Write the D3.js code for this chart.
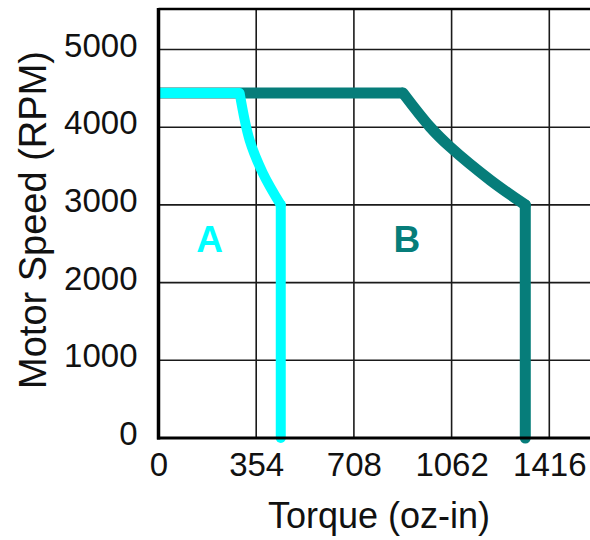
<!DOCTYPE html>
<html>
<head>
<meta charset="utf-8">
<script src="https://cdn.jsdelivr.net/npm/d3@7"></script>
<style>
  body { margin: 0; background: #fff; }
  svg { display: block; font-family: "Liberation Sans", Arial, sans-serif; }
</style>
</head>
<body>
<div id="chart"></div>
<script>
// ---- data ----
const xTicks = [0, 354, 708, 1062, 1416];
const yTicks = [0, 1000, 2000, 3000, 4000, 5000];

// curve A: torque (oz-in), speed (RPM)
const torqueA = [0, 294, 330, 378, 443, 443];
const speedA  = [4440, 4440, 3835, 3410, 3000, 0];

// curve B
const torqueB = [0, 886, 984, 1057, 1202, 1329, 1329];
const speedB  = [4440, 4440, 4003, 3745, 3320, 3000, 0];

const regionLabels = ["A", "B"];
const labelTorque = [185, 900];
const labelSpeed = [2400, 2400];
const colors = ["#00ffff", "#067d7a"];

const xMax = 1770;   // plot runs off the right edge
const yMax = 5520;

// ---- layout ----
const width = 590, height = 540;
const left = 158.5, bottom = 438;

const svg = d3.select("#chart").append("svg")
    .attr("width", width)
    .attr("height", height);

const x = d3.scaleLinear().domain([0, 354]).range([left, left + 97.7]);
const y = d3.scaleLinear().domain([0, 5000]).range([bottom, 49.5]);

// grid
svg.append("g")
    .selectAll("line")
    .data(xTicks.slice(1).concat([xMax]))
    .enter().append("line")
    .attr("x1", d => x(d)).attr("x2", d => x(d))
    .attr("y1", y(0)).attr("y2", y(yMax))
    .attr("stroke", "#1a1a1a").attr("stroke-width", 1.6);

svg.append("g")
    .selectAll("line")
    .data(yTicks.slice(1))
    .enter().append("line")
    .attr("x1", x(0)).attr("x2", x(xMax))
    .attr("y1", d => y(d)).attr("y2", d => y(d))
    .attr("stroke", "#1a1a1a").attr("stroke-width", 1.6);

// top border
svg.append("line")
    .attr("x1", x(0)).attr("x2", x(xMax))
    .attr("y1", y(yMax)).attr("y2", y(yMax))
    .attr("stroke", "#000").attr("stroke-width", 2.5);

// curves: flat top, smooth falling part, vertical drop
const straight = d3.line().x(d => x(d[0])).y(d => y(d[1]));
const smooth = d3.line().x(d => x(d[0])).y(d => y(d[1])).curve(d3.curveCatmullRom);

function drawCurve(torque, speed, color, w) {
    const pts = d3.zip(torque, speed);
    const n = pts.length;
    const g = svg.append("g")
        .attr("fill", "none")
        .attr("stroke", color)
        .attr("stroke-width", w);
    g.append("path").datum(pts.slice(0, 2)).attr("d", straight)
        .attr("stroke-linecap", "butt");
    g.append("path").datum(pts.slice(1, n - 1)).attr("d", smooth)
        .attr("stroke-linecap", "round").attr("stroke-linejoin", "round");
    g.append("path").datum(pts.slice(n - 2)).attr("d", straight)
        .attr("stroke-linecap", "round");
}

drawCurve(torqueB, speedB, colors[1], 11);
drawCurve(torqueA, speedA, colors[0], 10);

// axes
const tickFont = 33;
const xAxis = d3.axisBottom(x).tickValues(xTicks).tickFormat(d3.format("d"))
    .tickSize(0).tickPadding(15);
const gx = svg.append("g")
    .attr("transform", `translate(0,${bottom})`)
    .call(xAxis);
gx.select(".domain").remove();
gx.selectAll("text")
    .attr("font-size", tickFont)
    .attr("font-family", "'Liberation Sans', Arial, sans-serif")
    .attr("fill", "#111");

svg.append("line")
    .attr("x1", x(0) - 1.5).attr("x2", x(xMax))
    .attr("y1", bottom).attr("y2", bottom)
    .attr("stroke", "#000").attr("stroke-width", 3);

const yAxis = d3.axisLeft(y).tickValues(yTicks).tickFormat(d3.format("d"))
    .tickSize(0).tickPadding(21);
const gy = svg.append("g")
    .attr("transform", `translate(${left},0)`)
    .call(yAxis);
gy.select(".domain").remove();
gy.selectAll("text")
    .attr("font-size", tickFont)
    .attr("dy", "0.2em")
    .attr("font-family", "'Liberation Sans', Arial, sans-serif")
    .attr("fill", "#111");

svg.append("line")
    .attr("x1", left).attr("x2", left)
    .attr("y1", y(yMax) - 1).attr("y2", bottom + 1.5)
    .attr("stroke", "#000").attr("stroke-width", 3.5);

// region labels
svg.selectAll("text.region")
    .data(regionLabels)
    .enter().append("text")
    .attr("class", "region")
    .attr("x", (d, i) => x(labelTorque[i]))
    .attr("y", (d, i) => y(labelSpeed[i]))
    .attr("text-anchor", "middle")
    .attr("font-size", 37)
    .attr("font-weight", "bold")
    .attr("fill", (d, i) => colors[i])
    .text(d => d);

// axis titles
svg.append("text")
    .attr("x", 379)
    .attr("y", 528)
    .attr("text-anchor", "middle")
    .attr("font-size", 36)
    .attr("fill", "#111")
    .text("Torque (oz-in)");

svg.append("text")
    .attr("transform", `translate(46,220) rotate(-90)`)
    .attr("text-anchor", "middle")
    .attr("font-size", 38)
    .attr("fill", "#111")
    .text("Motor Speed (RPM)");
</script>
</body>
</html>
